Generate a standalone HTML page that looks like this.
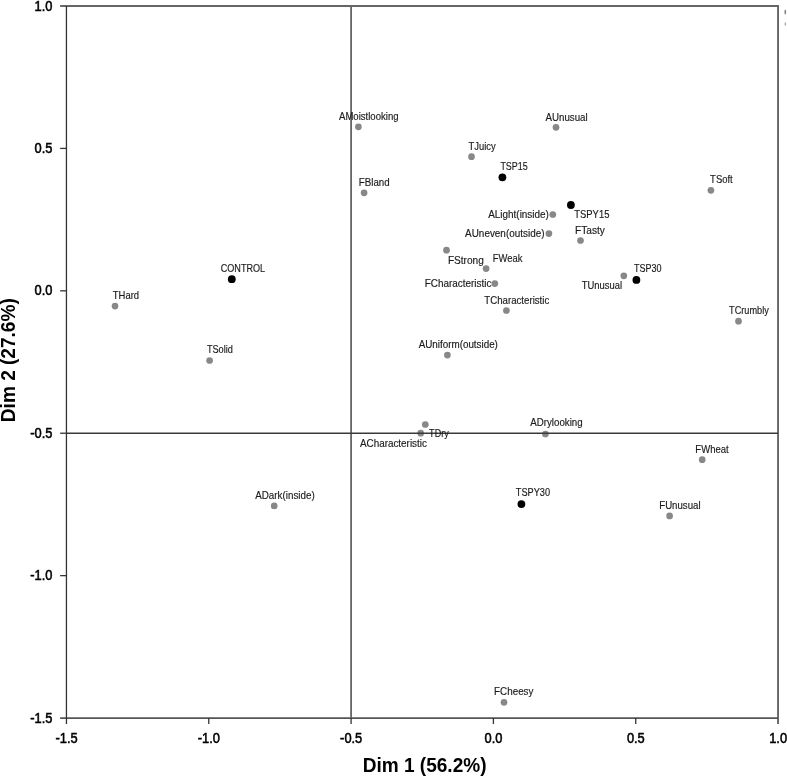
<!DOCTYPE html>
<html><head><meta charset="utf-8"><style>
html,body{margin:0;padding:0;background:#fff;}
svg{display:block;filter:grayscale(1) blur(0.3px);}
text{font-family:"Liberation Sans",sans-serif;}
</style></head><body>
<svg width="787" height="776" viewBox="0 0 787 776">
<rect width="787" height="776" fill="#fff"/>

<circle cx="358.4" cy="126.8" r="3.35" fill="#888"/>
<circle cx="364.1" cy="192.8" r="3.35" fill="#888"/>
<circle cx="471.5" cy="156.7" r="3.35" fill="#888"/>
<circle cx="556" cy="127.3" r="3.35" fill="#888"/>
<circle cx="710.9" cy="190.3" r="3.35" fill="#888"/>
<circle cx="552.8" cy="214.5" r="3.35" fill="#888"/>
<circle cx="548.9" cy="233.6" r="3.35" fill="#888"/>
<circle cx="580.5" cy="240.5" r="3.35" fill="#888"/>
<circle cx="623.8" cy="275.8" r="3.35" fill="#888"/>
<circle cx="738.5" cy="321.2" r="3.35" fill="#888"/>
<circle cx="446.5" cy="250.2" r="3.35" fill="#888"/>
<circle cx="486.1" cy="268.6" r="3.35" fill="#888"/>
<circle cx="494.8" cy="283.6" r="3.35" fill="#888"/>
<circle cx="506.4" cy="310.5" r="3.35" fill="#888"/>
<circle cx="447.4" cy="355.1" r="3.35" fill="#888"/>
<circle cx="425.3" cy="424.5" r="3.35" fill="#888"/>
<circle cx="420.7" cy="433.2" r="3.35" fill="#888"/>
<circle cx="545.4" cy="434.0" r="3.35" fill="#888"/>
<circle cx="702.2" cy="459.7" r="3.35" fill="#888"/>
<circle cx="669.6" cy="515.9" r="3.35" fill="#888"/>
<circle cx="504.0" cy="702.3" r="3.35" fill="#888"/>
<circle cx="115.0" cy="306.1" r="3.35" fill="#888"/>
<circle cx="209.6" cy="360.5" r="3.35" fill="#888"/>
<circle cx="274.2" cy="505.9" r="3.35" fill="#888"/>
<circle cx="502.4" cy="177.3" r="3.9" fill="#000"/>
<circle cx="570.9" cy="205.0" r="3.9" fill="#000"/>
<circle cx="636.4" cy="279.9" r="3.9" fill="#000"/>
<circle cx="521.4" cy="504.1" r="3.9" fill="#000"/>
<circle cx="231.8" cy="279.2" r="3.9" fill="#000"/>
<polyline points="60.15,6.00 778.05,6.00 778.05,724.05" fill="none" stroke="#666" stroke-width="1.9" stroke-linejoin="miter"/>
<line x1="60.15" y1="718.05" x2="778.05" y2="718.05" stroke="#555" stroke-width="1.7"/>
<line x1="66.45" y1="6.00" x2="66.45" y2="724.05" stroke="#333" stroke-width="1.3"/>
<ellipse cx="785.3" cy="12.1" rx="0.9" ry="2.6" fill="#888"/>
<ellipse cx="785.3" cy="24" rx="0.8" ry="1.8" fill="#aaa"/>
<line x1="351.09" y1="6.0" x2="351.09" y2="718.05" stroke="#666" stroke-width="1.8"/>
<line x1="66.45" y1="433.23" x2="778.05" y2="433.23" stroke="#3a3a3a" stroke-width="1.4"/>
<line x1="60.150000000000006" y1="148.41" x2="66.45" y2="148.41" stroke="#333" stroke-width="1.3"/>
<line x1="60.150000000000006" y1="290.82" x2="66.45" y2="290.82" stroke="#333" stroke-width="1.3"/>
<line x1="60.150000000000006" y1="433.23" x2="66.45" y2="433.23" stroke="#333" stroke-width="1.3"/>
<line x1="60.150000000000006" y1="575.64" x2="66.45" y2="575.64" stroke="#333" stroke-width="1.3"/>
<line x1="208.76999999999998" y1="718.05" x2="208.76999999999998" y2="724.05" stroke="#333" stroke-width="1.3"/>
<line x1="351.09" y1="718.05" x2="351.09" y2="724.05" stroke="#333" stroke-width="1.3"/>
<line x1="493.40999999999997" y1="718.05" x2="493.40999999999997" y2="724.05" stroke="#333" stroke-width="1.3"/>
<line x1="635.73" y1="718.05" x2="635.73" y2="724.05" stroke="#333" stroke-width="1.3"/>
<text transform="translate(52.4,10.60) scale(0.9,1)" font-size="14.3" text-anchor="end" fill="#000" stroke="#000" stroke-width="0.55">1.0</text>
<text transform="translate(52.4,153.01) scale(0.9,1)" font-size="14.3" text-anchor="end" fill="#000" stroke="#000" stroke-width="0.55">0.5</text>
<text transform="translate(52.4,295.42) scale(0.9,1)" font-size="14.3" text-anchor="end" fill="#000" stroke="#000" stroke-width="0.55">0.0</text>
<text transform="translate(52.4,437.83) scale(0.9,1)" font-size="14.3" text-anchor="end" fill="#000" stroke="#000" stroke-width="0.55">-0.5</text>
<text transform="translate(52.4,580.24) scale(0.9,1)" font-size="14.3" text-anchor="end" fill="#000" stroke="#000" stroke-width="0.55">-1.0</text>
<text transform="translate(52.4,722.65) scale(0.9,1)" font-size="14.3" text-anchor="end" fill="#000" stroke="#000" stroke-width="0.55">-1.5</text>
<text transform="translate(66.55,742.6) scale(0.9,1)" font-size="14.3" text-anchor="middle" fill="#000" stroke="#000" stroke-width="0.55">-1.5</text>
<text transform="translate(208.87,742.6) scale(0.9,1)" font-size="14.3" text-anchor="middle" fill="#000" stroke="#000" stroke-width="0.55">-1.0</text>
<text transform="translate(351.19,742.6) scale(0.9,1)" font-size="14.3" text-anchor="middle" fill="#000" stroke="#000" stroke-width="0.55">-0.5</text>
<text transform="translate(493.51,742.6) scale(0.9,1)" font-size="14.3" text-anchor="middle" fill="#000" stroke="#000" stroke-width="0.55">0.0</text>
<text transform="translate(635.83,742.6) scale(0.9,1)" font-size="14.3" text-anchor="middle" fill="#000" stroke="#000" stroke-width="0.55">0.5</text>
<text transform="translate(778.15,742.6) scale(0.9,1)" font-size="14.3" text-anchor="middle" fill="#000" stroke="#000" stroke-width="0.55">1.0</text>
<text transform="translate(424.6,771.6) scale(0.9724,1)" font-size="19.6" font-weight="bold" text-anchor="middle" fill="#000">Dim 1 (56.2%)</text>
<text transform="translate(14.6,360.2) rotate(-90) scale(0.9724,1)" font-size="19.6" font-weight="bold" text-anchor="middle" fill="#000">Dim 2 (27.6%)</text>
<text transform="translate(339.00,120.20) scale(0.9578,1)" font-size="10" fill="#1a1a1a" stroke="#1a1a1a" stroke-width="0.15">AMoistlooking</text>
<text transform="translate(358.82,185.90) scale(0.9735,1)" font-size="10" fill="#1a1a1a" stroke="#1a1a1a" stroke-width="0.15">FBland</text>
<text transform="translate(468.51,149.80) scale(0.9408,1)" font-size="10" fill="#1a1a1a" stroke="#1a1a1a" stroke-width="0.15">TJuicy</text>
<text transform="translate(500.42,169.50) scale(0.8930,1)" font-size="10" fill="#1a1a1a" stroke="#1a1a1a" stroke-width="0.15">TSP15</text>
<text transform="translate(545.50,120.60) scale(0.9742,1)" font-size="10" fill="#1a1a1a" stroke="#1a1a1a" stroke-width="0.15">AUnusual</text>
<text transform="translate(710.11,183.40) scale(0.9449,1)" font-size="10" fill="#1a1a1a" stroke="#1a1a1a" stroke-width="0.15">TSoft</text>
<text transform="translate(488.20,218.20) scale(0.9934,1)" font-size="10" fill="#1a1a1a" stroke="#1a1a1a" stroke-width="0.15">ALight(inside)</text>
<text transform="translate(465.10,237.10) scale(0.9924,1)" font-size="10" fill="#1a1a1a" stroke="#1a1a1a" stroke-width="0.15">AUneven(outside)</text>
<text transform="translate(574.31,218.20) scale(0.9426,1)" font-size="10" fill="#1a1a1a" stroke="#1a1a1a" stroke-width="0.15">TSPY15</text>
<text transform="translate(574.99,233.60) scale(1.0140,1)" font-size="10" fill="#1a1a1a" stroke="#1a1a1a" stroke-width="0.15">FTasty</text>
<text transform="translate(581.81,288.50) scale(0.9405,1)" font-size="10" fill="#1a1a1a" stroke="#1a1a1a" stroke-width="0.15">TUnusual</text>
<text transform="translate(634.02,271.80) scale(0.9000,1)" font-size="10" fill="#1a1a1a" stroke="#1a1a1a" stroke-width="0.15">TSP30</text>
<text transform="translate(729.12,314.30) scale(0.9165,1)" font-size="10" fill="#1a1a1a" stroke="#1a1a1a" stroke-width="0.15">TCrumbly</text>
<text transform="translate(447.89,264.00) scale(1.0117,1)" font-size="10" fill="#1a1a1a" stroke="#1a1a1a" stroke-width="0.15">FStrong</text>
<text transform="translate(492.74,261.70) scale(0.9446,1)" font-size="10" fill="#1a1a1a" stroke="#1a1a1a" stroke-width="0.15">FWeak</text>
<text transform="translate(424.70,287.20) scale(0.9939,1)" font-size="10" fill="#1a1a1a" stroke="#1a1a1a" stroke-width="0.15">FCharacteristic</text>
<text transform="translate(484.31,303.70) scale(0.9670,1)" font-size="10" fill="#1a1a1a" stroke="#1a1a1a" stroke-width="0.15">TCharacteristic</text>
<text transform="translate(418.70,347.90) scale(0.9837,1)" font-size="10" fill="#1a1a1a" stroke="#1a1a1a" stroke-width="0.15">AUniform(outside)</text>
<text transform="translate(429.12,437.20) scale(0.9070,1)" font-size="10" fill="#1a1a1a" stroke="#1a1a1a" stroke-width="0.15">TDry</text>
<text transform="translate(359.90,447.20) scale(0.9896,1)" font-size="10" fill="#1a1a1a" stroke="#1a1a1a" stroke-width="0.15">ACharacteristic</text>
<text transform="translate(530.20,426.20) scale(0.9737,1)" font-size="10" fill="#1a1a1a" stroke="#1a1a1a" stroke-width="0.15">ADrylooking</text>
<text transform="translate(695.34,452.90) scale(0.9531,1)" font-size="10" fill="#1a1a1a" stroke="#1a1a1a" stroke-width="0.15">FWheat</text>
<text transform="translate(659.23,508.90) scale(0.9662,1)" font-size="10" fill="#1a1a1a" stroke="#1a1a1a" stroke-width="0.15">FUnusual</text>
<text transform="translate(515.82,496.20) scale(0.9183,1)" font-size="10" fill="#1a1a1a" stroke="#1a1a1a" stroke-width="0.15">TSPY30</text>
<text transform="translate(494.11,695.10) scale(0.9847,1)" font-size="10" fill="#1a1a1a" stroke="#1a1a1a" stroke-width="0.15">FCheesy</text>
<text transform="translate(220.74,271.80) scale(0.9104,1)" font-size="10" fill="#1a1a1a" stroke="#1a1a1a" stroke-width="0.15">CONTROL</text>
<text transform="translate(112.81,298.90) scale(0.9480,1)" font-size="10" fill="#1a1a1a" stroke="#1a1a1a" stroke-width="0.15">THard</text>
<text transform="translate(206.92,353.10) scale(0.9164,1)" font-size="10" fill="#1a1a1a" stroke="#1a1a1a" stroke-width="0.15">TSolid</text>
<text transform="translate(255.20,499.00) scale(0.9833,1)" font-size="10" fill="#1a1a1a" stroke="#1a1a1a" stroke-width="0.15">ADark(inside)</text>
</svg></body></html>
